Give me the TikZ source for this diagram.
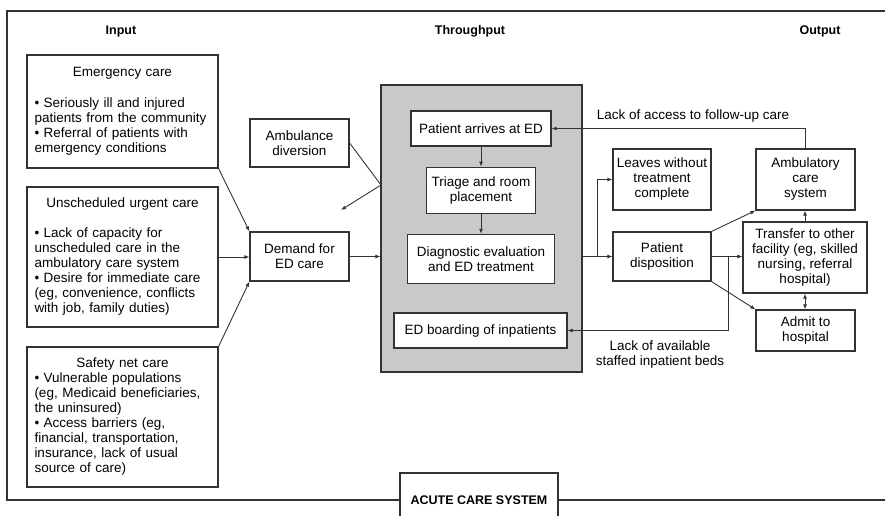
\documentclass[tikz,border=0pt]{standalone}
\usepackage{fontspec}
\setmainfont{Liberation Sans}
\usetikzlibrary{arrows.meta, positioning, calc}
\definecolor{edgray}{HTML}{C9C9C9}
\definecolor{linegray}{HTML}{333333}

\begin{document}
\begin{tikzpicture}[
    x=1pt, y=-1pt,
    font=\fontsize{13.5}{15}\selectfont,
    box/.style={rectangle, draw=linegray, line width=1.2pt, fill=white, align=center, inner sep=2pt},
    inbox/.style={box, align=left, text width=176pt, inner xsep=7.5pt},
    head/.style={font=\fontsize{12.5}{14}\selectfont\bfseries},
    flow/.style={-{Latex[length=5pt,width=4pt]}, line width=0.9pt, draw=linegray}
]
    \useasboundingbox (0,0) rectangle (885,515);
    % Frame
    \draw[line width=1.3pt, linegray] (885,11) -- (7,11) -- (7,500) -- (885,500);
    \node[head] (input) at (121,31) {Input};
    \node[head] (through) at (470,31) {Throughput};
    \node[head] (output) at (820,31) {Output};
    \node[box, head, minimum width=158pt, minimum height=54pt] (acute) at (479,500) {ACUTE CARE SYSTEM};
    % Input
    \node[inbox, minimum height=113pt] (emerg) at (122.5,111.5) {{\centering Emergency care\par}\vspace{16pt}%
        • Seriously ill and injured\\patients from the community\\• Referral of patients with\\emergency conditions};
    \node[inbox, minimum height=140pt] (unsched) at (122.5,257) {{\centering Unscheduled urgent care\par}\vspace{15pt}%
        • Lack of capacity for\\unscheduled care in the\\ambulatory care system\\• Desire for immediate care\\(eg, convenience, conflicts\\with job, family duties)};
    \node[inbox, minimum height=140pt] (safety) at (122.5,417) {{\centering Safety net care\par}%
        • Vulnerable populations\\(eg, Medicaid beneficiaries,\\the uninsured)\\• Access barriers (eg,\\financial, transportation,\\insurance, lack of usual\\source of care)};
    \node[box, minimum width=99pt, minimum height=48pt] (ambdiv) at (299.5,143) {Ambulance\\diversion};
    \node[box, minimum width=99pt, minimum height=49pt] (demand) at (299.5,256.5) {Demand for\\ED care};
    % Throughput
    \node[draw=linegray, fill=edgray, line width=1.2pt, minimum width=201pt, minimum height=287pt] (edbox) at (481.5,228.5) {};
    \node[box, minimum width=140pt, minimum height=35pt] (arrives) at (481,128.5) {Patient arrives at ED};
    \node[box, minimum width=109pt, minimum height=46pt] (triage) [below=20pt of arrives] {Triage and room\\placement};
    \node[box, minimum width=147pt, minimum height=49pt] (diag) [below=20pt of triage] {Diagnostic evaluation\\and ED treatment};
    \node[box, minimum width=173pt, minimum height=35pt] (boarding) at (480.5,330.5) {ED boarding of inpatients};
    % Output
    \node[box, minimum width=98pt, minimum height=61pt] (leaves) at (662,179.5) {Leaves without\\treatment\\complete};
    \node[box, minimum width=99pt, minimum height=61pt] (ambcare) at (805.5,179.5) {Ambulatory\\care\\system};
    \node[box, minimum width=98pt, minimum height=49pt] (dispo) at (662,256.5) {Patient\\disposition};
    \node[box, minimum width=124pt, minimum height=71pt] (transfer) at (805,257.5) {Transfer to other\\facility (eg, skilled\\nursing, referral\\hospital)};
    \node[box, minimum width=99pt, minimum height=41pt] (admit) at (805.5,330.5) {Admit to\\hospital};
    \node (followup) at (693,116) {Lack of access to follow-up care};
    \node[align=center] (beds) at (660,354.5) {Lack of available\\staffed inpatient beds};
    % Connections
    \coordinate (divpt) at (381,185);
    \coordinate (divend) at (341,210);
    \coordinate (split) at (597,256.5);
    \coordinate (bedsplit) at (728,256.5);
    \draw[flow] (emerg.south east) -- (demand.north west);
    \draw[flow] (unsched.east) -- (unsched.east -| demand.west);
    \draw[flow] (safety.north east) -- (demand.south west);
    \draw[flow] (ambdiv.east) -- (divpt) -- (divend);
    \draw[flow] (demand.east) -- (demand.east -| edbox.west);
    \draw[flow] (arrives) -- (triage);
    \draw[flow] (triage) -- (diag);
    \draw[flow] (dispo.west -| edbox.east) -- (dispo.west);
    \draw[flow] (split) |- (leaves.west);
    \draw[flow] (ambcare.north) |- (arrives.east);
    \draw[flow] (dispo.north east) -- (ambcare.south west);
    \draw[flow] (dispo.east) -- (dispo.east -| transfer.west);
    \draw[flow] (dispo.south east) -- (admit.north west);
    \draw[flow] (bedsplit) |- (boarding.east);
    \draw[flow] (transfer.north) -- (transfer.north |- ambcare.south);
    \draw[flow, {Latex[length=5pt,width=4pt]}-{Latex[length=5pt,width=4pt]}] (transfer.south) -- (transfer.south |- admit.north);
\end{tikzpicture}
\end{document}
